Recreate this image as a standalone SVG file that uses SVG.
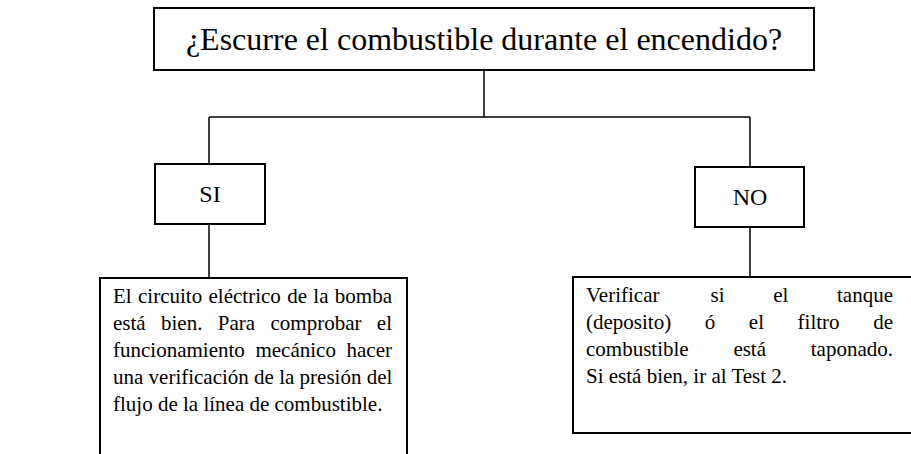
<svg xmlns="http://www.w3.org/2000/svg" width="911" height="454" viewBox="0 0 911 454">
<style>
.box{fill:#fff;stroke:#000;stroke-width:2}
.conn{fill:none;stroke:#000;stroke-width:1.5}
text{font-family:"Liberation Serif","Times New Roman",serif;fill:#000}
.title{font-size:32px}
.lbl{font-size:24px}
.body{font-size:21px}
</style>
<rect width="911" height="454" fill="#fff"/>
<g id="connectors">
<path class="conn" d="M484 70V117M209 117H750M209 117V164M750 117V167M209 224V278M750 227V277"/>
</g>
<g id="question">
<rect class="box" x="154" y="8" width="660" height="62"/>
<text class="title" x="484" y="50" text-anchor="middle">¿Escurre el combustible durante el encendido?</text>
</g>
<g id="si">
<rect class="box" x="155" y="164" width="110" height="60"/>
<text class="lbl" x="210" y="202" text-anchor="middle">SI</text>
</g>
<g id="no">
<rect class="box" x="695" y="167" width="109" height="60"/>
<text class="lbl" x="750" y="205" text-anchor="middle">NO</text>
</g>
<g id="si-result">
<rect class="box" x="100" y="278" width="307" height="190"/>
<text class="body" y="303"><tspan x="113">El</tspan><tspan x="138.02">circuito</tspan><tspan x="208.53">eléctrico</tspan><tspan x="287.18">de</tspan><tspan x="313.35">la</tspan><tspan x="334.86">bomba</tspan></text>
<text class="body" y="330"><tspan x="113">está</tspan><tspan x="161.03">bien.</tspan><tspan x="217.81">Para</tspan><tspan x="270.5">comprobar</tspan><tspan x="376.84">el</tspan></text>
<text class="body" y="357"><tspan x="113">funcionamiento</tspan><tspan x="255.44">mecánico</tspan><tspan x="346.53">hacer</tspan></text>
<text class="body" x="113" y="384">una verificación de la presión del</text>
<text class="body" x="113" y="411">flujo de la línea de combustible.</text>
</g>
<g id="no-result">
<rect class="box" x="573" y="277" width="350" height="156"/>
<text class="body" y="302"><tspan x="586">Verificar</tspan><tspan x="710.47">si</tspan><tspan x="773.16">el</tspan><tspan x="837">tanque</tspan></text>
<text class="body" y="329"><tspan x="586">(deposito)</tspan><tspan x="704.75">ó</tspan><tspan x="748.84">el</tspan><tspan x="797.59">filtro</tspan><tspan x="873.18">de</tspan></text>
<text class="body" y="356"><tspan x="586">combustible</tspan><tspan x="733.39">está</tspan><tspan x="810.77">taponado.</tspan></text>
<text class="body" x="586" y="383">Si está bien, ir al Test 2.</text>
</g>
</svg>
